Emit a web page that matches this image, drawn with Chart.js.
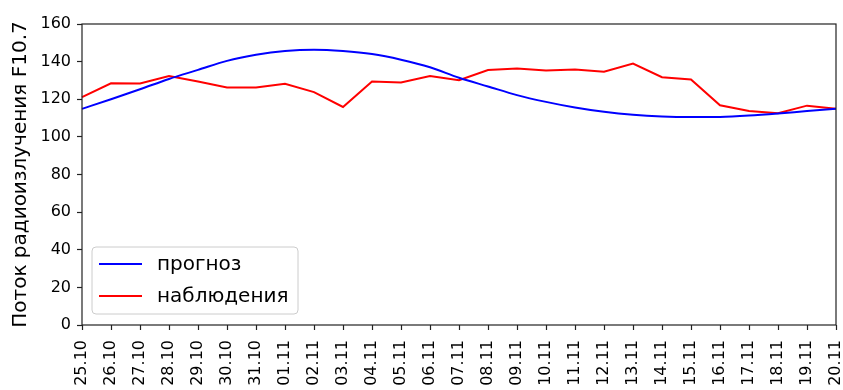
<!DOCTYPE html>
<html>
<head>
<meta charset="utf-8">
<script src="https://cdn.jsdelivr.net/npm/chart.js@4/dist/chart.umd.min.js"></script>
<style>
  html, body { margin: 0; padding: 0; background: #fff; }
  #wrap { width: 843px; height: 390px; }
</style>
</head>
<body>
<div id="wrap"><canvas id="c" width="843" height="390"></canvas></div>
<script>
// Dates (day.month)
const dates = ['25.10','26.10','27.10','28.10','29.10','30.10','31.10',
  '01.11','02.11','03.11','04.11','05.11','06.11','07.11','08.11','09.11',
  '10.11','11.11','12.11','13.11','14.11','15.11','16.11','17.11','18.11',
  '19.11','20.11'];

// Forecast of the F10.7 radio flux
const forecast = [114.9, 120.0, 125.3, 130.8, 135.6, 140.4, 143.6, 145.6, 146.3,
  145.6, 144.0, 141.0, 137.0, 131.4, 126.8, 122.2, 118.6, 115.6, 113.3,
  111.7, 110.8, 110.5, 110.6, 111.3, 112.4, 113.7, 114.9];

// Observed F10.7 radio flux
const observed = [121.1, 128.5, 128.4, 132.4, 129.4, 126.2, 126.2, 128.2, 123.8,
  115.9, 129.4, 128.9, 132.4, 130.1, 135.5, 136.3, 135.3, 135.8, 134.6,
  139.0, 131.7, 130.5, 116.8, 113.8, 112.6, 116.6, 114.9];

const yTicks = [0, 20, 40, 60, 80, 100, 120, 140, 160];

const seriesNames = ['прогноз', 'наблюдения'];
const yTitle = 'Поток радиоизлучения F10.7';

const FONT = "'DejaVu Sans', sans-serif";

// Frame around the plot area (all four spines)
const framePlugin = {
  id: 'frame',
  afterDatasetsDraw(chart) {
    const { ctx, chartArea: a } = chart;
    ctx.save();
    ctx.strokeStyle = '#222';
    ctx.lineWidth = 1.2;
    ctx.strokeRect(a.left, a.top, a.right - a.left, a.bottom - a.top);
    ctx.restore();
  }
};

// Legend box drawn inside the plot area, lower left
const innerLegend = {
  id: 'innerLegend',
  afterDraw(chart) {
    const { ctx, chartArea: a } = chart;
    const x0 = a.left + 10, y0 = a.bottom - 78;
    const w = 206, h = 67;
    ctx.save();
    ctx.fillStyle = 'rgba(255,255,255,0.8)';
    ctx.strokeStyle = '#cccccc';
    ctx.lineWidth = 1;
    const r = 4;
    ctx.beginPath();
    ctx.moveTo(x0 + r, y0);
    ctx.lineTo(x0 + w - r, y0);
    ctx.arcTo(x0 + w, y0, x0 + w, y0 + r, r);
    ctx.lineTo(x0 + w, y0 + h - r);
    ctx.arcTo(x0 + w, y0 + h, x0 + w - r, y0 + h, r);
    ctx.lineTo(x0 + r, y0 + h);
    ctx.arcTo(x0, y0 + h, x0, y0 + h - r, r);
    ctx.lineTo(x0, y0 + r);
    ctx.arcTo(x0, y0, x0 + r, y0, r);
    ctx.closePath();
    ctx.fill();
    ctx.stroke();
    ctx.font = '20px ' + FONT;
    ctx.textBaseline = 'middle';
    ctx.fillStyle = '#000';
    chart.data.datasets.forEach((ds, i) => {
      const yy = y0 + 17 + i * 32;
      ctx.strokeStyle = ds.borderColor;
      ctx.lineWidth = 2;
      ctx.beginPath();
      ctx.moveTo(x0 + 7, yy);
      ctx.lineTo(x0 + 50, yy);
      ctx.stroke();
      ctx.fillText(ds.label, x0 + 65, yy + 1);
    });
    ctx.restore();
  }
};

new Chart(document.getElementById('c'), {
  type: 'line',
  data: {
    labels: dates,
    datasets: [
      {
        label: seriesNames[0],
        data: forecast,
        borderColor: '#0000ff',
        borderWidth: 2,
        pointRadius: 0,
        tension: 0.4,
        cubicInterpolationMode: 'monotone',
        fill: false
      },
      {
        label: seriesNames[1],
        data: observed,
        borderColor: '#ff0000',
        borderWidth: 2,
        pointRadius: 0,
        tension: 0,
        fill: false
      }
    ]
  },
  options: {
    responsive: false,
    animation: false,
    devicePixelRatio: 1,
    layout: { padding: { top: 24, right: 7, left: 0, bottom: 0 } },
    plugins: {
      legend: { display: false },
      tooltip: { enabled: false }
    },
    scales: {
      x: {
        type: 'category',
        offset: false,
        grid: {
          display: true,
          drawOnChartArea: false,
          drawTicks: true,
          tickLength: 5,
          tickColor: '#222',
          tickWidth: 1.2
        },
        border: { display: false },
        ticks: {
          autoSkip: false,
          maxRotation: 90,
          minRotation: 90,
          padding: 10,
          color: '#000',
          font: { family: FONT, size: 16 }
        },
        afterFit(scale) {
          scale.height = 65;
          scale.paddingLeft = 0;
          scale.paddingRight = 0;
        }
      },
      y: {
        min: 0,
        max: 160,
        afterBuildTicks(scale) {
          scale.ticks = yTicks.map(v => ({ value: v }));
        },
        grid: {
          display: true,
          drawOnChartArea: false,
          drawTicks: true,
          tickLength: 5,
          tickColor: '#222',
          tickWidth: 1.2
        },
        border: { display: false },
        ticks: {
          padding: 6,
          color: '#000',
          font: { family: FONT, size: 16 }
        },
        title: {
          display: true,
          text: yTitle,
          color: '#000',
          padding: { top: 9, bottom: 0 },
          font: { family: FONT, size: 20 }
        },
        afterFit(scale) {
          scale.width = 82;
          scale.paddingTop = 0;
          scale.paddingBottom = 0;
        }
      }
    }
  },
  plugins: [framePlugin, innerLegend]
});
</script>
</body>
</html>
